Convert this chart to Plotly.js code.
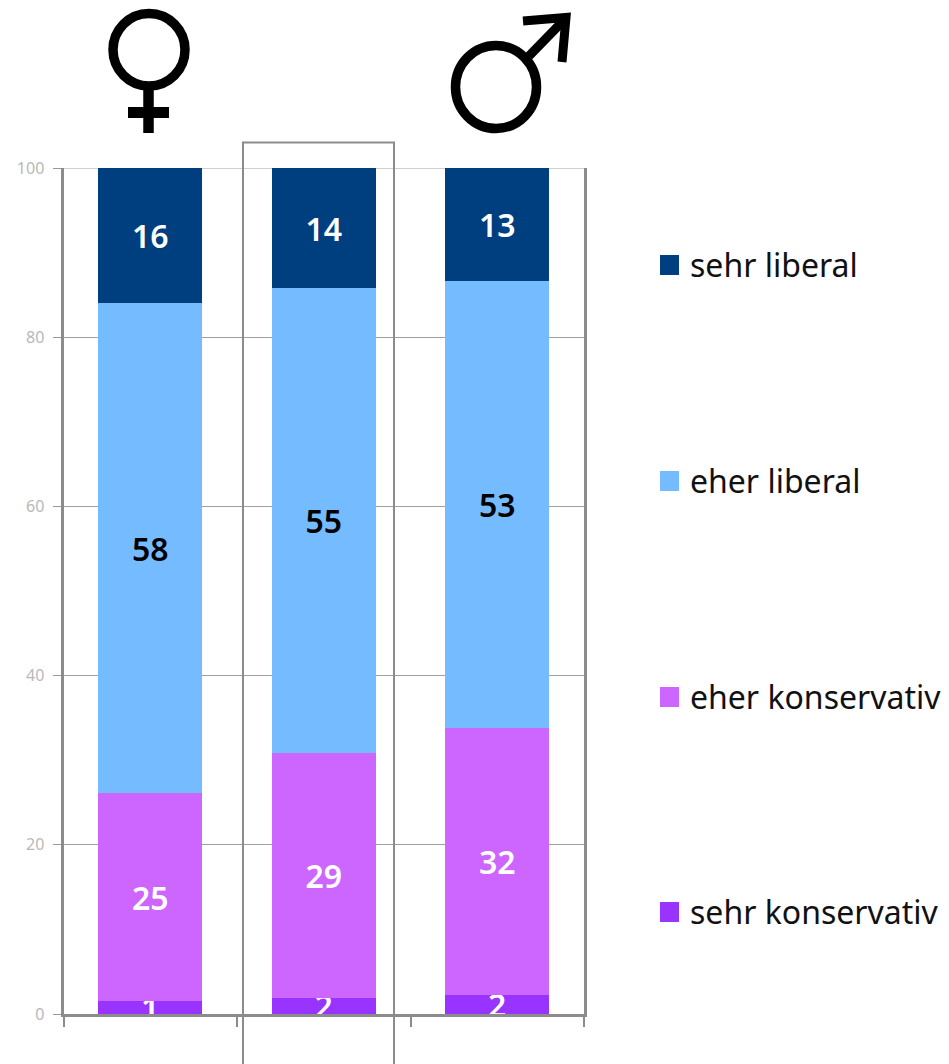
<!DOCTYPE html>
<html><head><meta charset="utf-8">
<script src="https://cdn.plot.ly/plotly-3.0.1.min.js"></script>
<style>html,body{margin:0;padding:0;background:#fff}</style>
</head><body><div id="chart" style="width:949px;height:1064px"></div>
<script>
const categories = ["Frauen", "Gesamt", "Männer"];
const sehrKonservativ = [1.5, 1.9, 2.2];
const eherKonservativ = [24.6, 29.0, 31.6];
const eherLiberal = [57.9, 54.9, 52.9];
const sehrLiberal = [16.0, 14.2, 13.3];
const lblSehrKonservativ = ["1", "2", "2"];
const lblEherKonservativ = ["25", "29", "32"];
const lblEherLiberal = ["58", "55", "53"];
const lblSehrLiberal = ["16", "14", "13"];
const yTicks = [0, 20, 40, 60, 80, 100];
const seriesNames = ["sehr konservativ", "eher konservativ", "eher liberal", "sehr liberal"];
const seriesColors = ["#9933ff", "#cc66ff", "#75bbff", "#003f7f"];
const labelColors = ["#ffffff", "#ffffff", "#000000", "#ffffff"];
const legendRows = [912, 697, 481, 265];

const W = 949, H = 1064;
const px = v => v / W, py = v => 1 - v / H;
const FONT = "Noto Sans, sans-serif";
const vals = [sehrKonservativ, eherKonservativ, eherLiberal, sehrLiberal];
const lbls = [lblSehrKonservativ, lblEherKonservativ, lblEherLiberal, lblSehrLiberal];

const traces = seriesNames.map((n, i) => ({
  type: "bar", name: n, x: categories, y: vals[i], text: lbls[i],
  textposition: "inside", insidetextanchor: "middle", constraintext: "none", textangle: 0,
  textfont: {family: FONT, size: 32, color: labelColors[i], weight: 600},
  marker: {color: seriesColors[i], line: {width: 0}},
  hoverinfo: "name+y"
}));

const pathOf = pts => pts.map((p, i) => (i ? "L" : "M") + px(p[0]) + "," + py(p[1])).join(" ");
const pathShape = (pts, color, width) => ({type: "path", xref: "paper", yref: "paper", layer: "above",
  path: pathOf(pts), line: {color, width}});
const ringShape = (x0, y0, x1, y1) => ({type: "circle", xref: "paper", yref: "paper", layer: "above",
  x0: px(x0), x1: px(x1), y0: py(y0), y1: py(y1), line: {color: "#000", width: 9.5}});

const shapes = [
  {type: "line", xref: "x domain", yref: "y", x0: 0, x1: 1, y0: 100, y1: 100, layer: "below",
    line: {color: "#a0a0a0", width: 1}},
  pathShape([[243, 1064], [243, 142.5], [394, 142.5], [394, 1064]], "#8c8c8c", 2),
  ringShape(113, 13.5, 185, 86),
  pathShape([[148.5, 88], [148.5, 133]], "#000", 10.5),
  pathShape([[128, 112.5], [169, 112.5]], "#000", 11),
  ringShape(455.5, 45.5, 536.5, 128.5),
  pathShape([[529, 56], [566, 18]], "#000", 9),
  pathShape([[523, 21], [566, 17.5], [562, 62]], "#000", 9)
];
const annotations = [];
seriesNames.forEach((n, i) => {
  shapes.push({type: "rect", xref: "paper", yref: "paper", x0: px(660), x1: px(679),
    y0: py(legendRows[i] + 10), y1: py(legendRows[i] - 10), fillcolor: seriesColors[i], line: {width: 0}});
  annotations.push({xref: "paper", yref: "paper", x: px(688), y: py(legendRows[i] - 1), xanchor: "left", yanchor: "middle",
    text: n, showarrow: false, font: {family: FONT, size: 32, color: "#111"}});
});

Plotly.newPlot("chart", traces, {
  width: W, height: H, autosize: false,
  margin: {l: 0, r: 0, t: 0, b: 0},
  paper_bgcolor: "#fff", plot_bgcolor: "#fff",
  barmode: "stack", bargap: 0.4, showlegend: false,
  xaxis: {domain: [px(63.5), px(584)], type: "category", categoryorder: "array", categoryarray: categories,
    range: [-0.5, 2.5], tickson: "boundaries", ticks: "outside", ticklen: 10, tickwidth: 2, tickcolor: "#8c8c8c",
    showticklabels: false, showline: true, linecolor: "#8c8c8c", linewidth: 3, showgrid: false},
  yaxis: {domain: [py(1014), py(168)], range: [0, 100], tickvals: yTicks, ticktext: yTicks.map(String),
    ticks: "outside", ticklen: 8, tickwidth: 1, tickcolor: "#999", ticklabelstandoff: 5,
    tickfont: {family: FONT, size: 16, color: "#b8b8b8"},
    showline: true, linecolor: "#8c8c8c", linewidth: 3, mirror: true,
    showgrid: true, gridcolor: "#a0a0a0", gridwidth: 1, zeroline: false},
  shapes, annotations
}, {displayModeBar: false, staticPlot: true});
</script></body></html>
